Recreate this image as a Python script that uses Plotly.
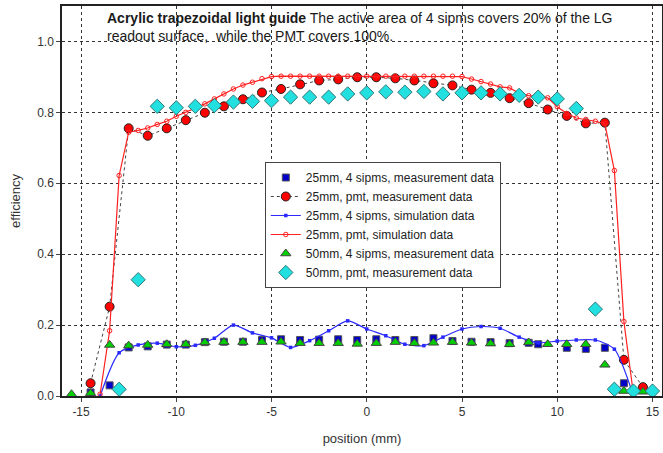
import plotly.graph_objects as go

# ---- data ----
sq_x = [-14.5, -13.5, -12.5, -11.5, -10.5, -9.5, -8.5, -7.5, -6.5, -5.5, -4.5, -3.5, -2.5, -1.5, -0.5,
        0.5, 1.5, 2.5, 3.5, 4.5, 5.5, 6.5, 7.5, 8.5, 9.0, 10.5, 11.5, 12.5, 13.5, 14.5]
sq_y = [0.010, 0.030, 0.137, 0.140, 0.145, 0.145, 0.152, 0.153, 0.153, 0.158, 0.160, 0.158, 0.159, 0.160, 0.158,
        0.160, 0.158, 0.158, 0.163, 0.155, 0.153, 0.152, 0.149, 0.150, 0.146, 0.136, 0.133, 0.136, 0.036, 0.020]

pm_x = [-14.5, -13.5, -12.5, -11.5, -10.5, -9.5, -8.5, -7.5, -6.5, -5.5, -4.5, -3.5, -2.5, -1.5, -0.5,
        0.5, 1.5, 2.5, 3.5, 4.5, 5.5, 6.5, 7.5, 8.5, 9.5, 10.5, 11.5, 12.5, 13.5, 14.5]
pm_y = [0.036, 0.252, 0.755, 0.734, 0.755, 0.778, 0.799, 0.817, 0.837, 0.856, 0.866, 0.879, 0.890, 0.893, 0.899,
        0.899, 0.896, 0.890, 0.882, 0.876, 0.864, 0.855, 0.840, 0.826, 0.808, 0.790, 0.769, 0.771, 0.102, 0.025]

bs_x = [-14, -13, -12, -11, -10, -9, -8, -7, -6, -5, -4, -3, -2, -1, 0,
        1, 2, 3, 4, 5, 6, 7, 8, 9, 10, 11, 12, 13, 14]
bs_y = [0.0, 0.122, 0.144, 0.149, 0.139, 0.143, 0.163, 0.200, 0.178, 0.164, 0.137, 0.156, 0.184, 0.212, 0.189,
        0.170, 0.146, 0.142, 0.166, 0.189, 0.196, 0.191, 0.166, 0.150, 0.155, 0.158, 0.158, 0.132, 0.0]

rs_x = [-14, -13.5, -13, -12.5, -12, -11.5, -11, -10.5, -10, -9.5, -9, -8.5, -8, -7.5, -7, -6.5, -6, -5.5, -5,
        -4.5, -4, -3.5, -3, -2.5, -2, -1.5, -1, -0.5, 0, 0.5, 1, 1.5, 2, 2.5, 3, 3.5, 4, 4.5,
        5, 5.5, 6, 6.5, 7, 7.5, 8, 8.5, 9, 9.5, 10, 10.5, 11, 11.5, 12, 12.5, 13, 13.5, 14]
rs_y = [0.005, 0.184, 0.622, 0.744, 0.749, 0.756, 0.766, 0.775, 0.789, 0.800, 0.812, 0.824, 0.838, 0.852, 0.866,
        0.877, 0.885, 0.895, 0.901,
        0.902, 0.902, 0.902, 0.902, 0.902, 0.902, 0.902, 0.902, 0.902, 0.902, 0.902, 0.902, 0.902, 0.902, 0.902,
        0.902, 0.902, 0.902, 0.902,
        0.901, 0.894, 0.887, 0.880, 0.872, 0.869, 0.854, 0.847, 0.843, 0.841, 0.816, 0.797, 0.784, 0.780, 0.775,
        0.768, 0.636, 0.210, 0.005]

tr_x = [-15.5, -14.5, -13.5, -12.5, -11.5, -10.5, -9.5, -8.5, -7.5, -6.5, -5.5, -4.5, -3.5, -2.5, -1.5, -0.5,
        0.5, 1.5, 2.5, 3.5, 4.5, 5.5, 6.5, 7.5, 8.5, 9.5, 10.5, 11.5, 12.5, 13.5, 14.5]
tr_y = [0.005, 0.008, 0.144, 0.142, 0.144, 0.146, 0.146, 0.151, 0.152, 0.152, 0.152, 0.153, 0.149, 0.149, 0.149, 0.147,
        0.149, 0.152, 0.149, 0.150, 0.152, 0.150, 0.148, 0.146, 0.151, 0.146, 0.146, 0.146, 0.088, 0.014, 0.012]

dm_x = [-13, -12, -11, -10, -9, -8, -7, -6, -5, -4, -3, -2, -1, 0,
        1, 2, 3, 4, 5, 6, 7, 8, 9, 10, 11, 12, 13, 14, 15]
dm_y = [0.019, 0.328, 0.817, 0.813, 0.817, 0.819, 0.829, 0.831, 0.833, 0.843, 0.843, 0.843, 0.852, 0.855,
        0.858, 0.857, 0.859, 0.852, 0.855, 0.855, 0.852, 0.848, 0.843, 0.838, 0.811, 0.245, 0.019, 0.014, 0.014]

x_ticks = [-15, -10, -5, 0, 5, 10, 15]
y_ticks = [0.0, 0.2, 0.4, 0.6, 0.8, 1.0]

FONT = "Liberation Sans, Arial, sans-serif"

fig = go.Figure()
fig.add_trace(go.Scatter(x=sq_x, y=sq_y, mode="markers", name="25mm, 4 sipms, measurement data",
                         marker=dict(symbol="square", size=7, color="#0000c8",
                                     line=dict(color="#555555", width=1))))
fig.add_trace(go.Scatter(x=pm_x, y=pm_y, mode="lines+markers", name="25mm, pmt, measurement data",
                         line=dict(color="#444444", width=1, dash="dot"),
                         marker=dict(symbol="circle", size=9, color="#ff0000",
                                     line=dict(color="#222222", width=1))))
fig.add_trace(go.Scatter(x=bs_x, y=bs_y, mode="lines+markers", name="25mm, 4 sipms, simulation data",
                         line=dict(color="#2a2aff", width=1.2, shape="spline", smoothing=0.7),
                         marker=dict(symbol="square", size=3.5, color="#2a2aff")))
fig.add_trace(go.Scatter(x=rs_x, y=rs_y, mode="lines+markers", name="25mm, pmt, simulation data",
                         line=dict(color="#ff2020", width=1.2),
                         marker=dict(symbol="circle-open", size=4.5, color="#ff2020", line=dict(width=1))))
fig.add_trace(go.Scatter(x=tr_x, y=tr_y, mode="markers", name="50mm, 4 sipms, measurement data",
                         marker=dict(symbol="triangle-up", size=9, color="#00d000",
                                     line=dict(color="#444444", width=1))))
fig.add_trace(go.Scatter(x=dm_x, y=dm_y, mode="markers", name="50mm, pmt, measurement data",
                         marker=dict(symbol="diamond", size=11, color="#22e0e0",
                                     line=dict(color="#337777", width=1))))

fig.add_annotation(xref="paper", yref="paper", x=0.0717, y=0.995, xanchor="left", yanchor="top",
                   align="left", showarrow=False,
                   text="<b>Acrylic trapezoidal light guide</b> The active area of 4 sipms covers 20% of the LG"
                        "<br>readout surface,  while the PMT covers 100%.",
                   font=dict(family=FONT, size=14, color="#1a1a1a"))

axis_common = dict(showgrid=True, gridcolor="#333333", griddash="dot", gridwidth=1,
                   showline=True, linecolor="#222222", linewidth=1.5, mirror=True,
                   ticks="outside", ticklen=4, tickcolor="#444444", zeroline=False,
                   automargin=False,
                   tickfont=dict(family=FONT, size=12, color="#333333"))

fig.update_xaxes(range=[-16, 15.5], tickvals=x_ticks, ticktext=[str(v) for v in x_ticks],
                 title=dict(text="position (mm)", font=dict(family=FONT, size=13, color="#333333"), standoff=16),
                 **axis_common)
fig.update_yaxes(range=[0, 1.1], tickvals=y_ticks, ticktext=["%.1f" % v for v in y_ticks],
                 title=dict(text="efficiency", font=dict(family=FONT, size=13, color="#333333"), standoff=14),
                 **axis_common)

fig.update_layout(
    width=663, height=453,
    margin=dict(l=62, r=1, t=6, b=57),
    paper_bgcolor="white", plot_bgcolor="white",
    font=dict(family=FONT, size=12, color="#333333"),
    legend=dict(x=0.338, y=0.6, xanchor="left", yanchor="top",
                bgcolor="white", bordercolor="#444444", borderwidth=1,
                font=dict(family=FONT, size=12, color="#222222"),
                itemwidth=30, tracegroupgap=0),
    showlegend=True,
)

fig.write_html("out.html",
               config={"displayModeBar": False},
               post_script="document.body.style.margin='0px';document.body.style.padding='0px';"
                           "document.documentElement.style.overflow='hidden';")
